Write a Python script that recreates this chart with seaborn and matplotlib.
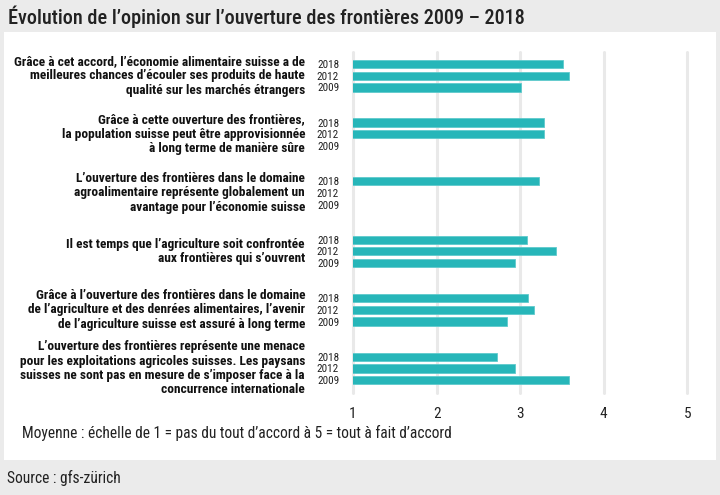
import numpy as np
import pandas as pd
import seaborn as sns
import matplotlib.pyplot as plt
from matplotlib import font_manager
from matplotlib.patches import Rectangle
import matplotlib.transforms as mtransforms

title = "Évolution de l’opinion sur l’ouverture des frontières 2009 – 2018"
footnote = "Moyenne : échelle de 1 = pas du tout d’accord à 5 = tout à fait d’accord"
source = "Source : gfs-zürich"

statements = [
    "Grâce à cet accord, l’économie alimentaire suisse a de\nmeilleures chances d’écouler ses produits de haute\nqualité sur les marchés étrangers",
    "Grâce à cette ouverture des frontières,\nla population suisse peut être approvisionnée\nà long terme de manière sûre",
    "L’ouverture des frontières dans le domaine\nagroalimentaire représente globalement un\navantage pour l’économie suisse",
    "Il est temps que l’agriculture soit confrontée\naux frontières qui s’ouvrent",
    "Grâce à l’ouverture des frontières dans le domaine\nde l’agriculture et des denrées alimentaires, l’avenir\nde l’agriculture suisse est assuré à long terme",
    "L’ouverture des frontières représente une menace\npour les exploitations agricoles suisses. Les paysans\nsuisses ne sont pas en mesure de s’imposer face à la\nconcurrence internationale",
]
years = ["2018", "2012", "2009"]
v2018 = [3.51, 3.28, 3.22, 3.08, 3.09, 2.72]
v2012 = [3.59, 3.28, np.nan, 3.43, 3.17, 2.94]
v2009 = [3.01, np.nan, np.nan, 2.94, 2.84, 3.59]
xticks = [1, 2, 3, 4, 5]

# font selection
names = {f.name for f in font_manager.fontManager.ttflist}
cond = next((n for n in ["Roboto Condensed", "Liberation Sans Narrow",
                         "Open Sans Condensed", "Fira Sans Condensed"] if n in names), None)

sns.set_theme(style="white")
if cond:
    plt.rcParams["font.family"] = [cond, "DejaVu Sans"]
else:
    plt.rcParams["font.family"] = ["DejaVu Sans"]
    plt.rcParams["font.stretch"] = "condensed"

# build rows
order = []
records = []
for i, s in enumerate(statements):
    for y, vals in zip(years, [v2018, v2012, v2009]):
        key = f"{i}_{y}"
        order.append(key)
        records.append({"row": key, "value": vals[i]})
    if i < len(statements) - 1:
        order += [f"{i}_gap_a", f"{i}_gap_b"]
df = pd.DataFrame(records).dropna()

fig = plt.figure(figsize=(7.2, 4.95), dpi=100, facecolor="#ebebeb")
fig.patches.append(Rectangle((4 / 720, 1 - 460 / 495), 712 / 720, 428 / 495,
                             transform=fig.transFigure, facecolor="white",
                             edgecolor="none", zorder=-10))
ax = fig.add_axes([353 / 720, 1 - 393 / 495, (704 - 353) / 720, (393 - 52) / 495])
ax.set_zorder(5)
ax.set_facecolor("none")

sns.barplot(data=df, y="row", x="value", order=order, orient="h",
            color="#27b6b9", saturation=1, width=0.7, errorbar=None,
            edgecolor="#5fcacc", linewidth=0.6, ax=ax)

ax.set_xlim(1, 5.2)
ax.set_ylim(len(order) - 1 + 1.1, -1.03)
ax.set_xticks(xticks)
ax.set_xticklabels([str(t) for t in xticks])
ax.xaxis.grid(True, color="#e9e9e9", linewidth=2.2)
ax.yaxis.grid(False)
ax.set_axisbelow(True)
for gl in ax.get_xgridlines():
    gl.set_clip_on(False)
for sp in ax.spines.values():
    sp.set_visible(False)
ax.tick_params(axis="x", length=0, pad=10, labelsize=11, labelcolor="#222222")
ax.set_yticks(range(len(order)))
ax.set_yticklabels([k.split("_")[1] if "gap" not in k else "" for k in order],
                   fontsize=8, color="#222222")
ax.tick_params(axis="y", length=0, pad=10)
ax.set_xlabel("")
ax.set_ylabel("")

trans = mtransforms.blended_transform_factory(fig.transFigure, ax.transData)
for i, s in enumerate(statements):
    ax.text(305 / 720, order.index(f"{i}_2012"), s, transform=trans,
            ha="right", va="center", fontsize=9.6, fontweight="bold",
            linespacing=1.13, color="#111111")

fig.text(8 / 720, 1 - 17 / 495, title, ha="left", va="center",
         fontsize=14.6, fontweight="medium", color="#222222")
fig.text(22 / 720, 1 - 433 / 495, footnote, ha="left", va="center",
         fontsize=11.2, color="#222222")
fig.text(7 / 720, 1 - 478 / 495, source, ha="left", va="center",
         fontsize=11.2, color="#222222")

fig.savefig("out.png", dpi=100, facecolor=fig.get_facecolor())
